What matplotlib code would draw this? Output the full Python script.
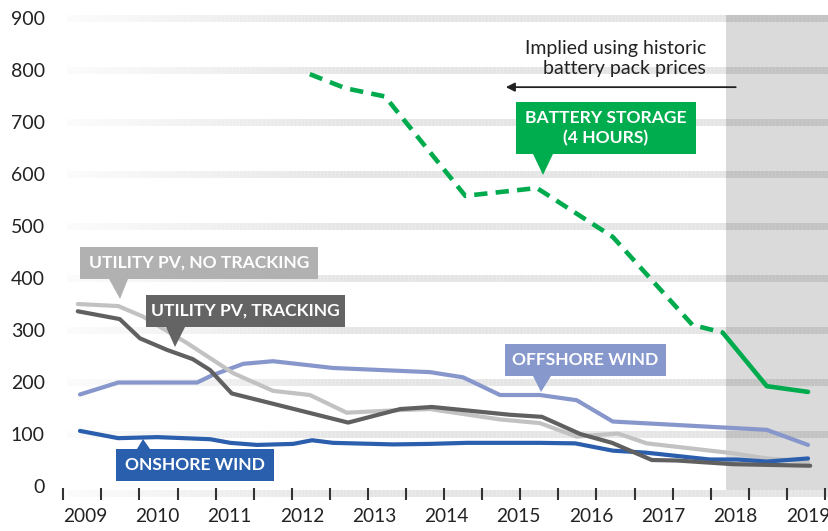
import numpy as np
import matplotlib
matplotlib.use("Agg")
import matplotlib.pyplot as plt
from matplotlib.collections import LineCollection
from matplotlib.patches import Rectangle, Polygon
from matplotlib.colors import to_rgb

plt.rcParams['font.family'] = ['Lato', 'DejaVu Sans']

# ---------------- data ----------------
onshore_x = [2008.93, 2009.46, 2010.00, 2010.73, 2011.01, 2011.38, 2011.88, 2012.14, 2012.43,
             2013.26, 2013.77, 2014.28, 2015.29, 2015.78, 2016.30, 2016.77, 2017.64, 2018.02,
             2018.43, 2019.00]
onshore_y = [106, 92, 94, 90, 83, 79, 81, 88, 83, 80, 81, 83, 83, 82, 68, 64, 51, 51, 47, 53]

offshore_x = [2008.93, 2009.46, 2010.55, 2010.76, 2011.19, 2011.60, 2012.43, 2013.59, 2013.77,
              2014.23, 2014.74, 2015.29, 2015.80, 2016.30, 2018.43, 2019.00]
offshore_y = [176, 199, 199, 213, 235, 240, 227, 220, 219, 209, 175, 175, 165, 124, 108, 79]

pv_fixed_x = [2008.90, 2009.46, 2009.80, 2010.41, 2011.05, 2011.60, 2012.11, 2012.62, 2013.36,
              2013.77, 2014.74, 2015.29, 2015.80, 2016.37, 2016.77, 2017.96, 2018.43, 2019.00]
pv_fixed_y = [350, 346, 326, 275, 217, 183, 175, 141, 146, 148, 128, 121, 95, 101, 82, 63, 53, 47]

pv_track_x = [2008.90, 2009.48, 2009.76, 2010.13, 2010.49, 2010.73, 2011.03, 2012.64, 2013.36,
              2013.80, 2014.88, 2015.32, 2015.85, 2016.29, 2016.84, 2017.19, 2017.96, 2019.03]
pv_track_y = [336, 321, 284, 262, 244, 223, 178, 122, 148, 152, 137, 133, 100, 83, 50, 49, 42, 39]

battery_x = [2012.11, 2012.60, 2013.15, 2014.26, 2015.25, 2016.30, 2017.40, 2017.82, 2018.43, 2019.00]
battery_y = [792, 765, 749, 558, 573, 479, 310, 295, 192, 181]
battery_implied_until = 2017.82   # dashed (implied) before this year

year_labels = [2009, 2010, 2011, 2012, 2013, 2014, 2015, 2016, 2017, 2018, 2019]
y_ticks = [0, 100, 200, 300, 400, 500, 600, 700, 800, 900]
forecast_start = 2017.87

# ---------------- figure ----------------
W, H = 829, 531
fig = plt.figure(figsize=(W / 100, H / 100), dpi=100)
ax = fig.add_axes([63 / W, 31 / H, 766 / W, 488 / H])
ax.set_xlim(2008.6957, 2019.2905)
ax.set_ylim(-26.9, 911.5)
for s in ax.spines.values():
    s.set_visible(False)

# gradient grid bands
x0g = 2008.75
xs = np.linspace(x0g, 2019.2905, 200)
band_end = np.array(to_rgb('#e5e5e5'))
white = np.array([0.985, 0.985, 0.985])
def band_colors():
    cols = []
    for xv in xs[:-1]:
        t = min(1.0, (xv - x0g) / 3.8)
        cols.append(white * (1 - t) + band_end * t)
    return cols
for yv in y_ticks[1:]:
    segs = [[(xs[i], yv), (xs[i + 1], yv)] for i in range(len(xs) - 1)]
    ax.add_collection(LineCollection(segs, colors=band_colors(), linewidths=5.0,
                                     zorder=1, capstyle='butt'))
# bottom baseline band
segs = [[(xs[i], -13), (xs[i + 1], -13)] for i in range(len(xs) - 1)]
ax.add_collection(LineCollection(segs, colors=band_colors(), linewidths=5.0, zorder=1))

# shaded forecast region
ax.add_patch(Rectangle((forecast_start, -8), 2019.2905 - forecast_start, 914,
                       facecolor='black', alpha=0.145, edgecolor='none', zorder=1.5))

# lines
lw = 3.0
ax.plot(offshore_x, offshore_y, color='#8797cc', lw=lw, zorder=3, solid_capstyle='round')
ax.plot(pv_fixed_x, pv_fixed_y, color='#c2c2c2', lw=lw, zorder=3.2, solid_capstyle='round')
ax.plot(onshore_x, onshore_y, color='#2b5fad', lw=lw, zorder=3.4, solid_capstyle='round')
ax.plot(pv_track_x, pv_track_y, color='#606060', lw=lw, zorder=3.6, solid_capstyle='round')

bx = np.array(battery_x); by = np.array(battery_y)
m1 = bx <= battery_implied_until
m2 = bx >= battery_implied_until
ax.plot(bx[m1], by[m1], color='#00ab4e', lw=3.3, zorder=4, linestyle=(0, (2.9, 1.8)))
ax.plot(bx[m2], by[m2], color='#00ab4e', lw=3.3, zorder=4, solid_capstyle='round')

# ticks
major = np.linspace(2008.70, 2019.235, 21)
ax.set_xticks(major)
ax.set_xticklabels([''] * len(major))
ax.tick_params(axis='x', which='major', direction='in', length=8.6, width=1.5,
               color='#333333', pad=0)
ax.set_xticks(year_labels, minor=True)
ax.set_xticklabels([str(y) for y in year_labels], minor=True)
ax.tick_params(axis='x', which='minor', length=0, pad=6, labelsize=13.8, labelcolor='#222222')
ax.set_yticks(y_ticks)
ax.set_yticklabels([str(v) for v in y_ticks])
ax.tick_params(axis='y', length=0, pad=13, labelsize=14, labelcolor='#222222')

# annotation arrow + text
ax.annotate('', xy=(2014.82, 767), xytext=(2018.0, 767),
            arrowprops=dict(arrowstyle='-|>', color='#222222', lw=1.3,
                            mutation_scale=13, shrinkA=0, shrinkB=0), zorder=5)
ax.text(2017.59, 822, 'Implied using historic\nbattery pack prices', ha='right', va='center',
        fontsize=14, color='#222222', linespacing=1.15, fontweight='normal', zorder=5)

# callouts (figure pixel coordinates)
def fpt(x, y):
    return (x / W, 1 - y / H)

callouts = [
    ('UTILITY PV, NO TRACKING', '#b1b1b1', (80, 247, 318, 279), [(109, 279), (128, 279), (120, 299)]),
    ('UTILITY PV, TRACKING', '#646464', (146, 295, 345, 327), [(166, 327), (185, 327), (175, 347)]),
    ('ONSHORE WIND', '#2a5fad', (116, 449, 274, 481), [(137, 449), (150, 449), (143, 439)]),
    ('OFFSHORE WIND', '#8798cd', (505, 344, 666, 376), [(533, 376), (551, 376), (541, 392)]),
    ('BATTERY STORAGE\n(4 HOURS)', '#00ad4e', (516, 102, 696, 154), [(533, 154), (553, 154), (543, 175)]),
]
for text, col, (x0, y0, x1, y1), tri in callouts:
    fig.add_artist(Rectangle(fpt(x0, y1), (x1 - x0) / W, (y1 - y0) / H, transform=fig.transFigure,
                             facecolor=col, edgecolor='none', zorder=10))
    fig.add_artist(Polygon([fpt(*p) for p in tri], closed=True, transform=fig.transFigure,
                           facecolor=col, edgecolor='none', zorder=10))
    cx, cy = fpt((x0 + x1) / 2, (y0 + y1) / 2)
    fig.text(cx, cy, text, ha='center', va='center', color='white', fontsize=12.6,
             fontweight='bold', linespacing=1.3, zorder=11)

fig.savefig('out.png', dpi=100)
